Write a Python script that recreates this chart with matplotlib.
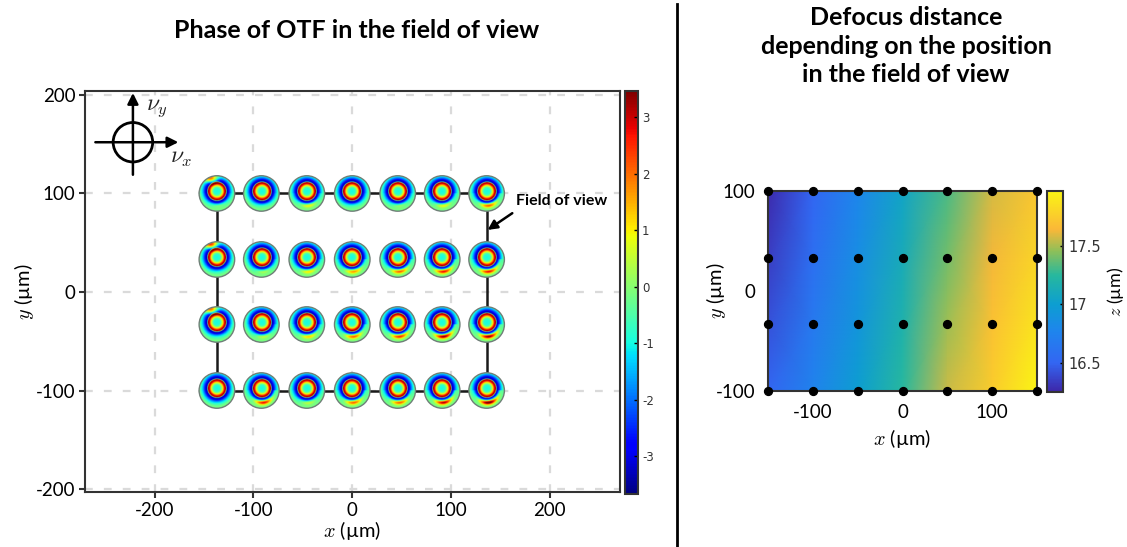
import numpy as np
import matplotlib
matplotlib.use("Agg")
import matplotlib.pyplot as plt
from matplotlib.colors import LinearSegmentedColormap, Normalize
from matplotlib.cm import ScalarMappable
from matplotlib.patches import Circle

W, H = 1127, 547
plt.rcParams['font.family'] = ['Lato', 'DejaVu Sans']
plt.rcParams['mathtext.fontset'] = 'cm'
plt.rcParams['axes.unicode_minus'] = False

# disc positions in the field of view
disc_x = [-137, -92, -46, 0, 46, 91, 136]
disc_y = [100, 33, -33, -100]

# phase along the radius of a disc (0 = centre, 1 = edge)
radius_pos = [0.0, 0.18, 0.26, 0.34, 0.42, 0.5, 0.56, 0.64, 0.74, 0.86, 1.0]
radius_phase = [-1.0, -0.8, 0.0, 1.2, 2.8, 3.3, -3.4, -3.0, -2.0, -1.0, -0.2]

# strength of the lower crescent, one row per line of discs
crescent = [[0.5, 0.3, 1.0, 0.3, 0.6, 1.0, 1.6],
            [0.2, 0.7, 1.1, 1.4, 1.6, 1.9, 1.9],
            [0.2, 0.8, 1.2, 1.6, 1.8, 2.2, 2.2],
            [0.1, 1.9, 0.8, 1.6, 1.6, 2.1, 2.4]]
# red lobe at the top of the first column
top_lobe = [3.5, 4.0, 3.5, 0.0]

# defocus surface
surf_x = [-150, -100, -50, 0, 50, 100, 150]
surf_y = [100, 33, -33, -100]
surf_z = [[16.27, 16.50, 16.78, 17.05, 17.32, 17.58, 17.72],
          [16.34, 16.58, 16.85, 17.12, 17.40, 17.63, 17.80],
          [16.42, 16.66, 16.92, 17.18, 17.48, 17.69, 17.88],
          [16.50, 16.75, 17.00, 17.25, 17.56, 17.75, 17.97]]

x_ticks = [-200, -100, 0, 100, 200]
y_ticks = [-200, -100, 0, 100, 200]
phase_ticks = [-3, -2, -1, 0, 1, 2, 3]
z_ticks = [16.5, 17, 17.5]
z_labels = ['16.5', '17', '17.5']

parula = LinearSegmentedColormap.from_list('parula', [
    (0.0, (0.24, 0.15, 0.66)), (0.145, (0.20, 0.40, 0.95)), (0.30, (0.12, 0.52, 0.93)),
    (0.436, (0.05, 0.62, 0.82)), (0.58, (0.15, 0.72, 0.62)), (0.70, (0.55, 0.75, 0.35)),
    (0.81, (0.98, 0.72, 0.22)), (1.0, (0.98, 0.96, 0.08))])


def px_axes(fig, left, top, right, bottom):
    return fig.add_axes([left / W, 1 - bottom / H, (right - left) / W, (bottom - top) / H])


def draw_disc(ax, cx, cy, cres, lobe, r=18.0):
    t = np.linspace(-1, 1, 61)
    u, v = np.meshgrid(t, t)
    rr = np.hypot(u, v - 0.1)
    img = np.interp(rr, radius_pos, radius_phase)
    # crescent follows the rings, low in the disc and a bit to the right
    img = img + cres * 2.2 * np.exp(-((rr - 0.8) / 0.13) ** 2 - ((u - 0.1) / 0.55) ** 2) * (v < 0)
    img = img + lobe * np.exp(-((v - 0.8) / 0.22) ** 2 - ((u + 0.3) / 0.35) ** 2)
    im = ax.imshow(img, cmap='jet', vmin=-3.67, vmax=3.46, origin='lower',
                   extent=[cx - r, cx + r, cy - r, cy + r], interpolation='bilinear', zorder=4)
    im.set_clip_path(Circle((cx, cy), r, transform=ax.transData))
    ax.add_patch(Circle((cx, cy), r, fill=False, ec='#6f7f78', lw=1.0, zorder=5))


fig = plt.figure(figsize=(W / 100, H / 100), dpi=100)

# left panel
ax = px_axes(fig, 85, 91, 620, 492)
ax.set_xticks(x_ticks)
ax.set_yticks(y_ticks)
ax.grid(True, linestyle=(0, (3.5, 5)), color='#dadada', lw=1.6)
ax.set_axisbelow(True)
ax.plot([disc_x[0], disc_x[-1], disc_x[-1], disc_x[0], disc_x[0]],
        [disc_y[0], disc_y[0], disc_y[-1], disc_y[-1], disc_y[0]], color='#1a1a1a', lw=1.8, zorder=3)
for j, yy in enumerate(disc_y):
    for i, xx in enumerate(disc_x):
        draw_disc(ax, xx, yy, crescent[j][i], top_lobe[j] if i == 0 else 0.0)
ax.set_xlim(-270.5, 271)
ax.set_ylim(-203, 204)
ax.set_aspect('auto')
for s in ax.spines.values():
    s.set_color('#333333')
    s.set_linewidth(1.5)
ax.tick_params(labelsize=13.5, length=4, width=1.5, color='#333333', pad=3)
ax.set_xlabel(r'$x$ (µm)', fontsize=14.5, labelpad=0)
ax.set_ylabel(r'$y$ (µm)', fontsize=14.5, labelpad=0)
fig.text(357 / W, 1 - 30 / H, 'Phase of OTF in the field of view', fontsize=18,
         fontweight='bold', ha='center', va='center')

# orientation sketch
cx, cy = -222, 152
ax.add_patch(Circle((cx, cy), 20, fill=False, ec='k', lw=2, zorder=6))
ax.annotate('', xy=(cx, cy + 50), xytext=(cx, cy - 33),
            arrowprops=dict(arrowstyle='-|>', color='k', lw=1.8, mutation_scale=16, shrinkA=0, shrinkB=0))
ax.annotate('', xy=(cx + 46, cy), xytext=(cx - 38, cy),
            arrowprops=dict(arrowstyle='-|>', color='k', lw=1.8, mutation_scale=16, shrinkA=0, shrinkB=0))
ax.text(cx + 13, cy + 35, r'$\nu_y$', fontsize=17, va='center', color='#222222')
ax.text(cx + 38, cy - 17, r'$\nu_x$', fontsize=17, va='center', color='#222222')

ax.text(166, 92, 'Field of view', fontsize=11.5, fontweight='bold', va='center', ha='left')
ax.annotate('', xy=(137, 63), xytext=(162, 80),
            arrowprops=dict(arrowstyle='-|>', color='k', lw=1.8, mutation_scale=14, shrinkA=0, shrinkB=0))

cax = px_axes(fig, 625, 91, 638, 494)
cb = fig.colorbar(ScalarMappable(Normalize(-3.67, 3.46), 'jet'), cax=cax, ticks=phase_ticks)
cb.ax.set_yticklabels([str(v) for v in phase_ticks], family=['DejaVu Sans'])
cb.ax.tick_params(labelsize=8.5, direction='in', length=3, width=1, pad=3, labelcolor='#333333')
cb.outline.set_edgecolor('#333333')
cb.outline.set_linewidth(1.5)

# divider
fig.add_artist(plt.Line2D([677 / W, 677 / W], [0, 1 - 4 / H], color='k', lw=2))

# right panel
ax2 = px_axes(fig, 768, 191, 1037, 391)
ax2.pcolormesh(surf_x, surf_y, surf_z, cmap=parula, vmin=16.25, vmax=17.97, shading='gouraud')
gx, gy = np.meshgrid(surf_x, surf_y)
ax2.scatter(gx.ravel(), gy.ravel(), s=32, color='k', clip_on=False, zorder=5)
ax2.set_xlim(-150, 150)
ax2.set_ylim(-100, 100)
ax2.set_xticks([-100, 0, 100])
ax2.set_yticks([-100, 0, 100])
for s in ax2.spines.values():
    s.set_color('#333333')
    s.set_linewidth(1.5)
ax2.tick_params(labelsize=13.5, length=0, pad=9)
ax2.set_xlabel(r'$x$ (µm)', fontsize=14.5, labelpad=5)
ax2.set_ylabel(r'$y$ (µm)', fontsize=14.5, labelpad=-9)
fig.text(906 / W, 1 - 46 / H, 'Defocus distance\ndepending on the position\nin the field of view',
         fontsize=18, fontweight='bold', linespacing=1.28, ha='center', va='center')

cax2 = px_axes(fig, 1047, 191, 1063, 392)
cb2 = fig.colorbar(ScalarMappable(Normalize(16.25, 17.97), parula), cax=cax2, ticks=z_ticks)
cb2.ax.set_yticklabels(z_labels, family=['DejaVu Sans'])
cb2.ax.tick_params(labelsize=10.5, direction='in', length=2, width=1, pad=4, labelcolor='#333333')
cb2.outline.set_edgecolor('#333333')
cb2.outline.set_linewidth(1.5)
cb2.set_label(r'$z$ (µm)', fontsize=13, labelpad=3)

fig.savefig('out.png', dpi=100)
plt.close(fig)
